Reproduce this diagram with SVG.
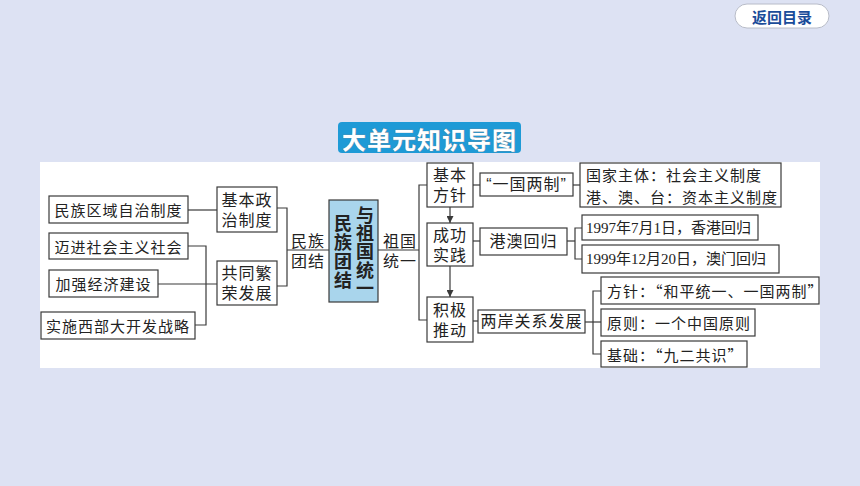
<svg xmlns="http://www.w3.org/2000/svg" width="860" height="486" viewBox="0 0 860 486">
<defs>
<style>
.bg{fill:#dde2f3}
.box{fill:#fff;stroke:#3a3a3a;stroke-width:1.2}
.t{font-family:"Noto Sans CJK SC","Noto Sans",sans-serif;font-size:15px;fill:#222;text-anchor:middle;dominant-baseline:central;letter-spacing:1px}
.tl{font-family:"Noto Sans CJK SC","Noto Sans",sans-serif;font-size:15px;fill:#222;text-anchor:start;dominant-baseline:central;letter-spacing:1px}
.t2{font-family:"Liberation Sans","Noto Sans CJK SC",sans-serif;font-size:16px;fill:#222;text-anchor:middle;dominant-baseline:central;letter-spacing:1px}
.tv{font-family:"Noto Sans CJK SC","Noto Sans",sans-serif;font-size:18px;font-weight:bold;fill:#222;writing-mode:vertical-rl;text-orientation:upright}
.ln{fill:none;stroke:#3a3a3a;stroke-width:1.2}
</style>
<marker id="ah" viewBox="0 0 10 10" refX="10" refY="5" markerWidth="7" markerHeight="7" orient="auto" markerUnits="userSpaceOnUse">
<path d="M0,0 L10,5 L0,10 z" fill="#3a3a3a"/>
</marker>
</defs>
<rect class="bg" x="0" y="0" width="860" height="486"/>
<g id="back-btn">
<rect x="735" y="4" width="94" height="24" rx="12" fill="#fff" stroke="#b8bcc8" stroke-width="1"/>
<text x="782" y="16.5" font-family="'Noto Sans CJK SC',sans-serif" font-size="15" font-weight="bold" fill="#1a4c9a" text-anchor="middle" dominant-baseline="central">返回目录</text>
</g>
<g id="title">
<rect x="338" y="122" width="183" height="31" rx="4" fill="#1e9ad6"/>
<text x="429.5" y="138" font-family="'Noto Sans CJK SC',sans-serif" font-size="24" font-weight="bold" fill="#fff" stroke="#7d8b98" stroke-width="0.7" paint-order="stroke" text-anchor="middle" dominant-baseline="central" letter-spacing="1">大单元知识导图</text>
</g>
<rect x="40" y="162" width="780" height="206" fill="#fff"/>
<g id="connectors">
<path class="ln" d="M188,210 H217"/>
<path class="ln" d="M188,246 H206 V325 H195"/>
<path class="ln" d="M158,284 H217"/>
<path class="ln" d="M277,208 H287 V286 H277"/>
<path class="ln" d="M287,250 H329"/>
<path class="ln" d="M378,250 H419"/>
<path class="ln" d="M427,185 H419 V320 H427"/>
<path class="ln" d="M450,207 V223" marker-end="url(#ah)"/>
<path class="ln" d="M450,266 V297" marker-end="url(#ah)"/>
<path class="ln" d="M473,185 H480"/>
<path class="ln" d="M473,241 H480"/>
<path class="ln" d="M473,321 H478"/>
<path class="ln" d="M573,185 H580"/>
<path class="ln" d="M567,241 H575"/>
<path class="ln" d="M582,228 H575 V259 H582"/>
<path class="ln" d="M585,322 H601"/>
<path class="ln" d="M601,291 H593 V354 H601"/>
</g>
<g id="n-minzuquyu"><rect class="box" x="49" y="196" width="139" height="27"/><text class="t" x="118.5" y="209.5">民族区域自治制度</text></g>
<g id="n-maijin"><rect class="box" x="49" y="233" width="139" height="26"/><text class="t" x="118.5" y="246">迈进社会主义社会</text></g>
<g id="n-jiaqiang"><rect class="box" x="49" y="270" width="109" height="27"/><text class="t" x="103.5" y="283.5">加强经济建设</text></g>
<g id="n-shishi"><rect class="box" x="41" y="312" width="154" height="27"/><text class="t" x="118" y="325.5">实施西部大开发战略</text></g>
<g id="n-jibenzhengzhi"><rect class="box" x="217" y="187" width="60" height="45"/><text class="t2" x="247" y="200">基本政</text><text class="t2" x="247" y="220">治制度</text></g>
<g id="n-gongtong"><rect class="box" x="217" y="261" width="60" height="44"/><text class="t2" x="247" y="273">共同繁</text><text class="t2" x="247" y="293">荣发展</text></g>
<g id="lbl-minzu"><text class="t2" x="308" y="241">民族</text><text class="t2" x="308" y="261">团结</text></g>
<g id="n-center">
<rect x="329" y="200" width="49" height="102" fill="#a9d5ec" stroke="#3a3a3a" stroke-width="1.2"/>
<text class="tv" x="343" y="214" letter-spacing="1">民族团结</text>
<text class="tv" x="365" y="206" letter-spacing="0.3">与祖国统一</text>
</g>
<g id="lbl-zuguo"><text class="t2" x="400" y="241">祖国</text><text class="t2" x="400" y="261">统一</text></g>
<g id="n-jibenfangzhen"><rect class="box" x="427" y="163" width="46" height="44"/><text class="t2" x="450" y="175">基本</text><text class="t2" x="450" y="195">方针</text></g>
<g id="n-chenggong"><rect class="box" x="427" y="223" width="46" height="43"/><text class="t2" x="450" y="235">成功</text><text class="t2" x="450" y="255">实践</text></g>
<g id="n-jiji"><rect class="box" x="427" y="297" width="46" height="45"/><text class="t2" x="450" y="310">积极</text><text class="t2" x="450" y="330">推动</text></g>
<g id="n-yiguoliangzhi"><rect class="box" x="480" y="173" width="93" height="23"/><text class="t2" x="526.5" y="184.5">“一国两制”</text></g>
<g id="n-gangao"><rect class="box" x="480" y="228" width="87" height="27"/><text class="t2" x="523.5" y="241.5">港澳回归</text></g>
<g id="n-liangan"><rect class="box" x="478" y="310" width="107" height="23"/><text class="t2" x="531.5" y="321.5">两岸关系发展</text></g>
<g id="n-guojia"><rect class="box" x="580" y="163" width="201" height="44"/><text class="tl" x="586" y="174">国家主体：社会主义制度</text><text class="tl" x="586" y="196">港、澳、台：资本主义制度</text></g>
<g id="n-1997"><rect class="box" x="582" y="215" width="176" height="25"/><text class="tl" x="586" y="227.5" style="font-family:'Liberation Serif','Noto Sans CJK SC',serif;letter-spacing:0">1997年7月1日，香港回归</text></g>
<g id="n-1999"><rect class="box" x="582" y="245" width="197" height="28"/><text class="tl" x="586" y="259" style="font-family:'Liberation Serif','Noto Sans CJK SC',serif;letter-spacing:0">1999年12月20日，澳门回归</text></g>
<g id="n-fangzhen"><rect class="box" x="601" y="277" width="218" height="27"/><text class="tl" x="607" y="290.5">方针：“和平统一、一国两制”</text></g>
<g id="n-yuanze"><rect class="box" x="601" y="309" width="154" height="27"/><text class="tl" x="607" y="322.5">原则：一个中国原则</text></g>
<g id="n-jichu"><rect class="box" x="601" y="341" width="146" height="26"/><text class="tl" x="607" y="354">基础：“九二共识”</text></g>
</svg>
